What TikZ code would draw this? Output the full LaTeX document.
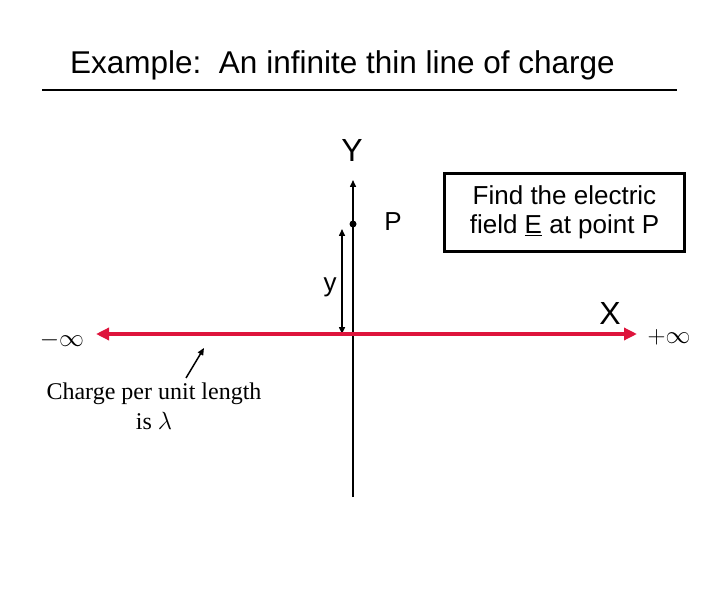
\documentclass[tikz,border=0pt]{standalone}
\usepackage{fontspec}
\setmainfont{Liberation Sans}
\newfontfamily\serifr{Liberation Serif}
\usetikzlibrary{arrows.meta}
\definecolor{lred}{RGB}{222,20,60}
\tikzset{lbl/.style={inner sep=0pt,font=\fontsize{26}{30}\selectfont},
ser/.style={inner sep=0pt,font=\serifr\fontsize{24}{29}\selectfont}}
\begin{document}
\begin{tikzpicture}[x=1pt,y=-1pt]
\useasboundingbox (0,0) rectangle (720,612);
\node[lbl,anchor=west,font=\fontsize{31.5}{36}\selectfont] (t) at (70,65) {Example:\ \ An infinite thin line of charge};
\coordinate (r1) at (42,90); \coordinate (r2) at (677,90);
\draw[line width=1.3pt] (r1) -- (r2);
\node[lbl,font=\fontsize{32}{36}\selectfont] (Y) at (352,150) {Y};
\coordinate (yb) at (353,497); \coordinate (yt) at (353,180);
\draw[line width=1.5pt,-{Triangle[length=7pt,width=6pt]}] (yb) -- (yt);
\fill (353,224) circle (3.5pt) coordinate (Pd);
\node[lbl] (P) at (393,222) {P};
\coordinate (a1) at (342,229); \coordinate (a2) at (342,334);
\draw[line width=1.5pt,{Triangle[length=7pt,width=6pt]}-{Triangle[length=7pt,width=6pt]}] (a1) -- (a2);
\node[lbl] (yl) at (330,287) {y};
\coordinate (x1) at (96,334); \coordinate (x2) at (637,334);
\draw[lred,line width=4pt,{Triangle[length=13pt,width=12pt]}-{Triangle[length=13pt,width=12pt]}] (x1) -- (x2);
\node[lbl,font=\fontsize{32}{36}\selectfont] (X) at (610,313) {X};
\node[inner sep=0pt,font=\fontsize{31}{36}\selectfont] (mi) at (62,340) {$-\infty$};
\node[inner sep=0pt,font=\fontsize{31}{36}\selectfont] (pi) at (669,337) {$+\infty$};
\node[draw,line width=3pt,minimum width=240pt,minimum height=78pt,align=center,font=\fontsize{26}{29}\selectfont] (box) at (564.5,212.5) {Find the electric\\field \underline{E} at point P};
\node[ser,align=center,font=\serifr\fontsize{24}{30}\selectfont] (cp) at (154,406) {Charge per unit length\\is $\lambda$};
\coordinate (s1) at (186,378); \coordinate (s2) at (204,348);
\draw[line width=1.5pt,-{Triangle[length=7pt,width=6pt]}] (s1) -- (s2);
\end{tikzpicture}
\end{document}
